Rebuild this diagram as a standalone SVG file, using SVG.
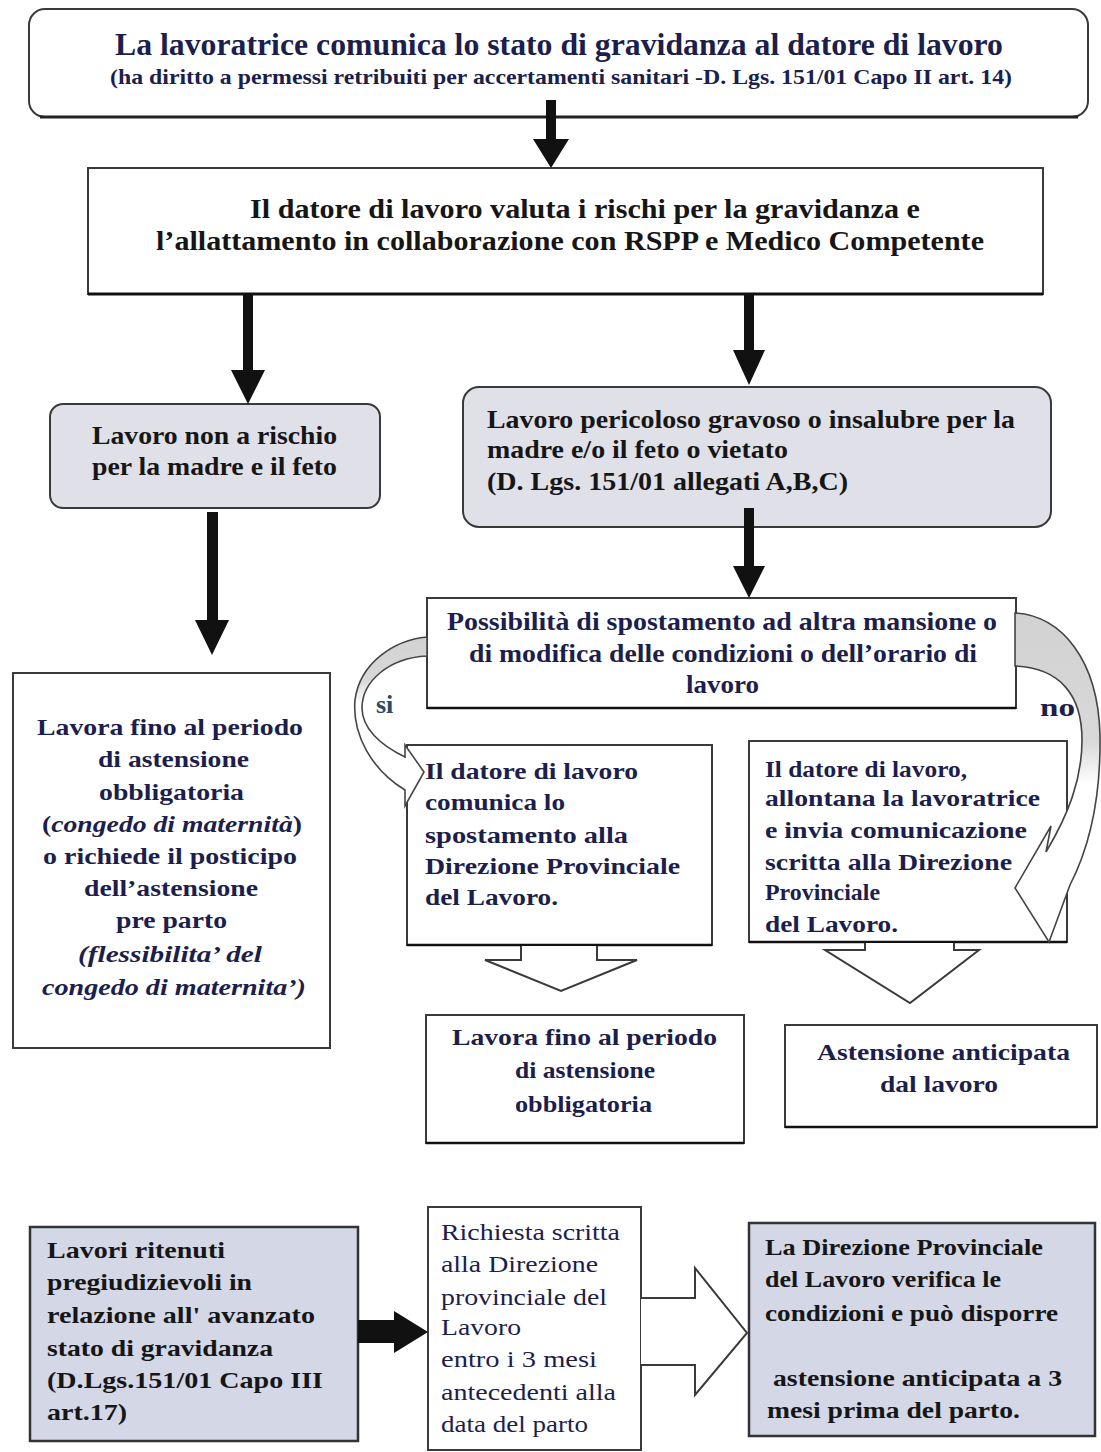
<svg xmlns="http://www.w3.org/2000/svg" width="1101" height="1452" viewBox="0 0 1101 1452">
<style>
.box{fill:#ffffff;stroke:#3a3a3a;stroke-width:2}
.gray{fill:#dfe0e8;stroke:#3a3a3a;stroke-width:2}
.gray2{fill:#d4d7e6;stroke:#333;stroke-width:2.5}
.t{font-family:"Liberation Serif","Times New Roman",serif;font-weight:bold;fill:#1c1e4c}
.k{font-family:"Liberation Serif","Times New Roman",serif;font-weight:bold;fill:#161616}
.r{font-family:"Liberation Serif","Times New Roman",serif;font-weight:normal;fill:#1c1e4c}
.arr{fill:#111}
.blk{fill:#ffffff;stroke:#3a3a3a;stroke-width:2;stroke-linejoin:miter}
.curve{stroke:#444;stroke-width:1.6}
</style>
<defs>
<linearGradient id="gsi" gradientUnits="userSpaceOnUse" x1="0" y1="636" x2="0" y2="760">
<stop offset="0" stop-color="#d2d2d2"/>
<stop offset="0.35" stop-color="#d8d8d8"/>
<stop offset="0.55" stop-color="#ffffff"/>
<stop offset="1" stop-color="#ffffff"/>
</linearGradient>
<linearGradient id="gno" gradientUnits="userSpaceOnUse" x1="0" y1="612" x2="0" y2="900">
<stop offset="0" stop-color="#d2d2d2"/>
<stop offset="0.45" stop-color="#d8d8d8"/>
<stop offset="0.6" stop-color="#ffffff"/>
<stop offset="1" stop-color="#ffffff"/>
</linearGradient>
</defs>
<rect x="0" y="0" width="1101" height="1452" fill="#ffffff"/>

<g id="n-comunica">
<rect class="box" x="29" y="9" width="1059" height="108" rx="16"/>
<path d="M 40 117 L 1078 117" stroke="#222" stroke-width="3" fill="none"/>
<text class="t" x="115" y="55" font-size="31" textLength="888" lengthAdjust="spacingAndGlyphs">La lavoratrice comunica lo stato di gravidanza al datore di lavoro</text>
<text class="t" x="110" y="84" font-size="21" textLength="902" lengthAdjust="spacingAndGlyphs">(ha diritto a permessi retribuiti per accertamenti sanitari -D. Lgs. 151/01 Capo II art. 14)</text>
</g>

<g id="n-valuta">
<rect class="box" x="88" y="168" width="955" height="126"/>
<path d="M 88 294 L 1043 294" stroke="#111" stroke-width="3" fill="none"/>
<text class="k" x="250" y="218" font-size="27" textLength="670" lengthAdjust="spacingAndGlyphs">Il datore di lavoro valuta i rischi per la gravidanza e</text>
<text class="k" x="156" y="250" font-size="27" textLength="828" lengthAdjust="spacingAndGlyphs">l’allattamento in collaborazione con RSPP e Medico Competente</text>
</g>

<g id="n-nonrischio">
<rect class="gray" x="50" y="404" width="330" height="104" rx="13"/>
<text class="k" x="92" y="444" font-size="25" textLength="245" lengthAdjust="spacingAndGlyphs">Lavoro non a rischio</text>
<text class="k" x="92" y="475" font-size="25" textLength="245" lengthAdjust="spacingAndGlyphs">per la madre e il feto</text>
</g>

<g id="n-pericoloso">
<rect class="gray" x="463" y="387" width="588" height="140" rx="16"/>
<text class="k" x="487" y="428" font-size="25" textLength="528" lengthAdjust="spacingAndGlyphs">Lavoro pericoloso gravoso o insalubre per la</text>
<text class="k" x="487" y="458" font-size="25" textLength="301" lengthAdjust="spacingAndGlyphs">madre e/o il feto o vietato</text>
<text class="k" x="487" y="490" font-size="25" textLength="361" lengthAdjust="spacingAndGlyphs">(D. Lgs. 151/01 allegati A,B,C)</text>
</g>

<g id="n-lavorafino1">
<rect class="box" x="13" y="673" width="317" height="375"/>
<text class="t" x="37" y="735" font-size="24" textLength="266" lengthAdjust="spacingAndGlyphs">Lavora fino al periodo</text>
<text class="t" x="98" y="767" font-size="24" textLength="151" lengthAdjust="spacingAndGlyphs">di astensione</text>
<text class="t" x="99" y="800" font-size="24" textLength="145" lengthAdjust="spacingAndGlyphs">obbligatoria</text>
<text class="t" x="42" y="832" font-size="24" textLength="260" lengthAdjust="spacingAndGlyphs">(<tspan font-style="italic">congedo di maternità</tspan>)</text>
<text class="t" x="43" y="864" font-size="24" textLength="254" lengthAdjust="spacingAndGlyphs">o richiede il posticipo</text>
<text class="t" x="84" y="896" font-size="24" textLength="174" lengthAdjust="spacingAndGlyphs">dell’astensione</text>
<text class="t" x="116" y="928" font-size="24" textLength="111" lengthAdjust="spacingAndGlyphs">pre parto</text>
<text class="t" x="78" y="962" font-size="24" font-style="italic" textLength="184" lengthAdjust="spacingAndGlyphs">(flessibilita’ del</text>
<text class="t" x="42" y="995" font-size="24" font-style="italic" textLength="264" lengthAdjust="spacingAndGlyphs">congedo di maternita’)</text>
</g>

<g id="n-possibilita">
<rect class="box" x="427" y="598" width="589" height="110"/>
<path d="M 427 708 L 1016 708" stroke="#111" stroke-width="2.5" fill="none"/>
<text class="t" x="447" y="630" font-size="25" textLength="550" lengthAdjust="spacingAndGlyphs">Possibilità di spostamento ad altra mansione o</text>
<text class="t" x="469" y="662" font-size="25" textLength="508" lengthAdjust="spacingAndGlyphs">di modifica delle condizioni o dell’orario di</text>
<text class="t" x="686" y="693" font-size="25" textLength="73" lengthAdjust="spacingAndGlyphs">lavoro</text>
</g>

<g id="n-spostamento">
<rect class="box" x="407" y="745" width="305" height="200"/>
<path d="M 407 945 L 712 945" stroke="#111" stroke-width="2.5" fill="none"/>
<text class="t" x="425" y="779" font-size="24" textLength="213" lengthAdjust="spacingAndGlyphs">Il datore di lavoro</text>
<text class="t" x="425" y="810" font-size="24" textLength="140" lengthAdjust="spacingAndGlyphs">comunica lo</text>
<text class="t" x="425" y="843" font-size="24" textLength="203" lengthAdjust="spacingAndGlyphs">spostamento  alla</text>
<text class="t" x="425" y="874" font-size="24" textLength="255" lengthAdjust="spacingAndGlyphs">Direzione Provinciale</text>
<text class="t" x="425" y="905" font-size="24" textLength="133" lengthAdjust="spacingAndGlyphs">del Lavoro.</text>
</g>

<g id="n-allontana">
<rect class="box" x="749" y="741" width="318" height="201"/>
<path d="M 749 942 L 1067 942" stroke="#111" stroke-width="2.5" fill="none"/>
<text class="t" x="765" y="777" font-size="24" textLength="202" lengthAdjust="spacingAndGlyphs">Il datore di lavoro,</text>
<text class="t" x="765" y="806" font-size="24" textLength="275" lengthAdjust="spacingAndGlyphs">allontana la lavoratrice</text>
<text class="t" x="765" y="838" font-size="24" textLength="262" lengthAdjust="spacingAndGlyphs">e invia comunicazione</text>
<text class="t" x="765" y="870" font-size="24" textLength="247" lengthAdjust="spacingAndGlyphs">scritta alla Direzione</text>
<text class="t" x="765" y="900" font-size="24" textLength="115" lengthAdjust="spacingAndGlyphs">Provinciale</text>
<text class="t" x="765" y="932" font-size="24" textLength="133" lengthAdjust="spacingAndGlyphs">del Lavoro.</text>
</g>

<g id="n-lavorafino2">
<rect class="box" x="426" y="1015" width="318" height="128"/>
<path d="M 426 1143 L 744 1143" stroke="#111" stroke-width="2.5" fill="none"/>
<text class="t" x="452" y="1045" font-size="24" textLength="265" lengthAdjust="spacingAndGlyphs">Lavora fino al periodo</text>
<text class="t" x="515" y="1078" font-size="24" textLength="140" lengthAdjust="spacingAndGlyphs">di astensione</text>
<text class="t" x="515" y="1112" font-size="24" textLength="137" lengthAdjust="spacingAndGlyphs">obbligatoria</text>
</g>

<g id="n-astensione">
<rect class="box" x="785" y="1025" width="312" height="102"/>
<path d="M 785 1127 L 1097 1127" stroke="#111" stroke-width="2.5" fill="none"/>
<text class="t" x="817" y="1060" font-size="24" textLength="253" lengthAdjust="spacingAndGlyphs">Astensione anticipata</text>
<text class="t" x="880" y="1092" font-size="24" textLength="118" lengthAdjust="spacingAndGlyphs">dal lavoro</text>
</g>

<g id="n-pregiudizievoli">
<rect class="gray2" x="30" y="1227" width="328" height="214"/>
<text class="k" x="47" y="1258" font-size="24" textLength="178" lengthAdjust="spacingAndGlyphs">Lavori ritenuti</text>
<text class="k" x="47" y="1290" font-size="24" textLength="205" lengthAdjust="spacingAndGlyphs">pregiudizievoli in</text>
<text class="k" x="47" y="1323" font-size="24" textLength="268" lengthAdjust="spacingAndGlyphs">relazione all' avanzato</text>
<text class="k" x="47" y="1356" font-size="24" textLength="226" lengthAdjust="spacingAndGlyphs">stato di gravidanza</text>
<text class="k" x="47" y="1388" font-size="24" textLength="276" lengthAdjust="spacingAndGlyphs">(D.Lgs.151/01 Capo III</text>
<text class="k" x="47" y="1420" font-size="24" textLength="80" lengthAdjust="spacingAndGlyphs">art.17)</text>
</g>

<g id="n-richiesta">
<rect class="box" x="428" y="1207" width="213" height="243"/>
<text class="r" x="441" y="1240" font-size="23" textLength="179" lengthAdjust="spacingAndGlyphs">Richiesta scritta</text>
<text class="r" x="441" y="1272" font-size="23" textLength="157" lengthAdjust="spacingAndGlyphs">alla Direzione</text>
<text class="r" x="441" y="1305" font-size="23" textLength="166" lengthAdjust="spacingAndGlyphs">provinciale del</text>
<text class="r" x="441" y="1335" font-size="23" textLength="80" lengthAdjust="spacingAndGlyphs">Lavoro</text>
<text class="r" x="441" y="1367" font-size="23" textLength="156" lengthAdjust="spacingAndGlyphs">entro i 3 mesi</text>
<text class="r" x="441" y="1400" font-size="23" textLength="175" lengthAdjust="spacingAndGlyphs">antecedenti alla</text>
<text class="r" x="441" y="1432" font-size="23" textLength="147" lengthAdjust="spacingAndGlyphs">data del parto</text>
</g>

<g id="n-verifica">
<rect class="gray2" x="749" y="1223" width="346" height="213"/>
<text class="k" x="765" y="1255" font-size="23" textLength="278" lengthAdjust="spacingAndGlyphs">La Direzione Provinciale</text>
<text class="k" x="765" y="1287" font-size="23" textLength="236" lengthAdjust="spacingAndGlyphs">del Lavoro verifica le</text>
<text class="k" x="765" y="1321" font-size="23" textLength="293" lengthAdjust="spacingAndGlyphs">condizioni e può disporre</text>
<text class="k" x="773" y="1386" font-size="23" textLength="289" lengthAdjust="spacingAndGlyphs">astensione anticipata a 3</text>
<text class="k" x="767" y="1418" font-size="23" textLength="253" lengthAdjust="spacingAndGlyphs">mesi prima del parto.</text>
</g>

<g id="connectors">
<path class="arr" d="M 546 100 L 556 100 L 556 139 L 569 139 L 551 168 L 533 139 L 546 139 Z"/>
<path class="arr" d="M 243 295 L 253 295 L 253 370 L 265 370 L 248 404 L 231 370 L 243 370 Z"/>
<path class="arr" d="M 744 295 L 754 295 L 754 350 L 765 350 L 749 385 L 733 350 L 744 350 Z"/>
<path class="arr" d="M 207 512 L 218 512 L 218 620 L 229 620 L 212 655 L 195 620 L 207 620 Z"/>
<path class="arr" d="M 744 508 L 754 508 L 754 566 L 765 566 L 749 598 L 733 566 L 744 566 Z"/>
<path class="arr" d="M 358 1320 L 394 1320 L 394 1311 L 428 1332 L 394 1353 L 394 1343 L 358 1343 Z"/>
<path class="blk" d="M 521 946 L 521 960 L 485 960 L 561 991 L 637 960 L 597 960 L 597 946"/>
<path class="blk" d="M 865 943 L 865 950 L 825 950 L 910 1003 L 979 950 L 954 950 L 954 943"/>
<path class="blk" d="M 641 1298 L 695 1298 L 695 1268 L 747 1333 L 695 1395 L 695 1365 L 641 1365"/>
<path class="curve" fill="url(#gsi)" d="M 427 637 C 395 640, 360 662, 355 700 C 352 735, 372 770, 405 790 L 405 806 L 424 772 L 405 745 L 405 757 C 380 745, 362 728, 362 708 C 362 682, 388 658, 427 656 Z"/>
<path class="curve" fill="url(#gno)" d="M 1015 613 C 1062 616, 1098 660, 1100 735 C 1101 800, 1088 850, 1070 885 L 1049 942 L 1015 888 L 1051 826 L 1046 852 C 1068 815, 1082 780, 1082 740 C 1082 695, 1060 668, 1015 666 Z"/>
<text x="376" y="713" font-family="Liberation Serif, serif" font-weight="bold" font-size="26" fill="#2d4a64">si</text>
<text x="1040" y="716" font-family="Liberation Serif, serif" font-weight="bold" font-size="26" fill="#1c1e4c" textLength="35" lengthAdjust="spacingAndGlyphs">no</text>
</g>
</svg>
